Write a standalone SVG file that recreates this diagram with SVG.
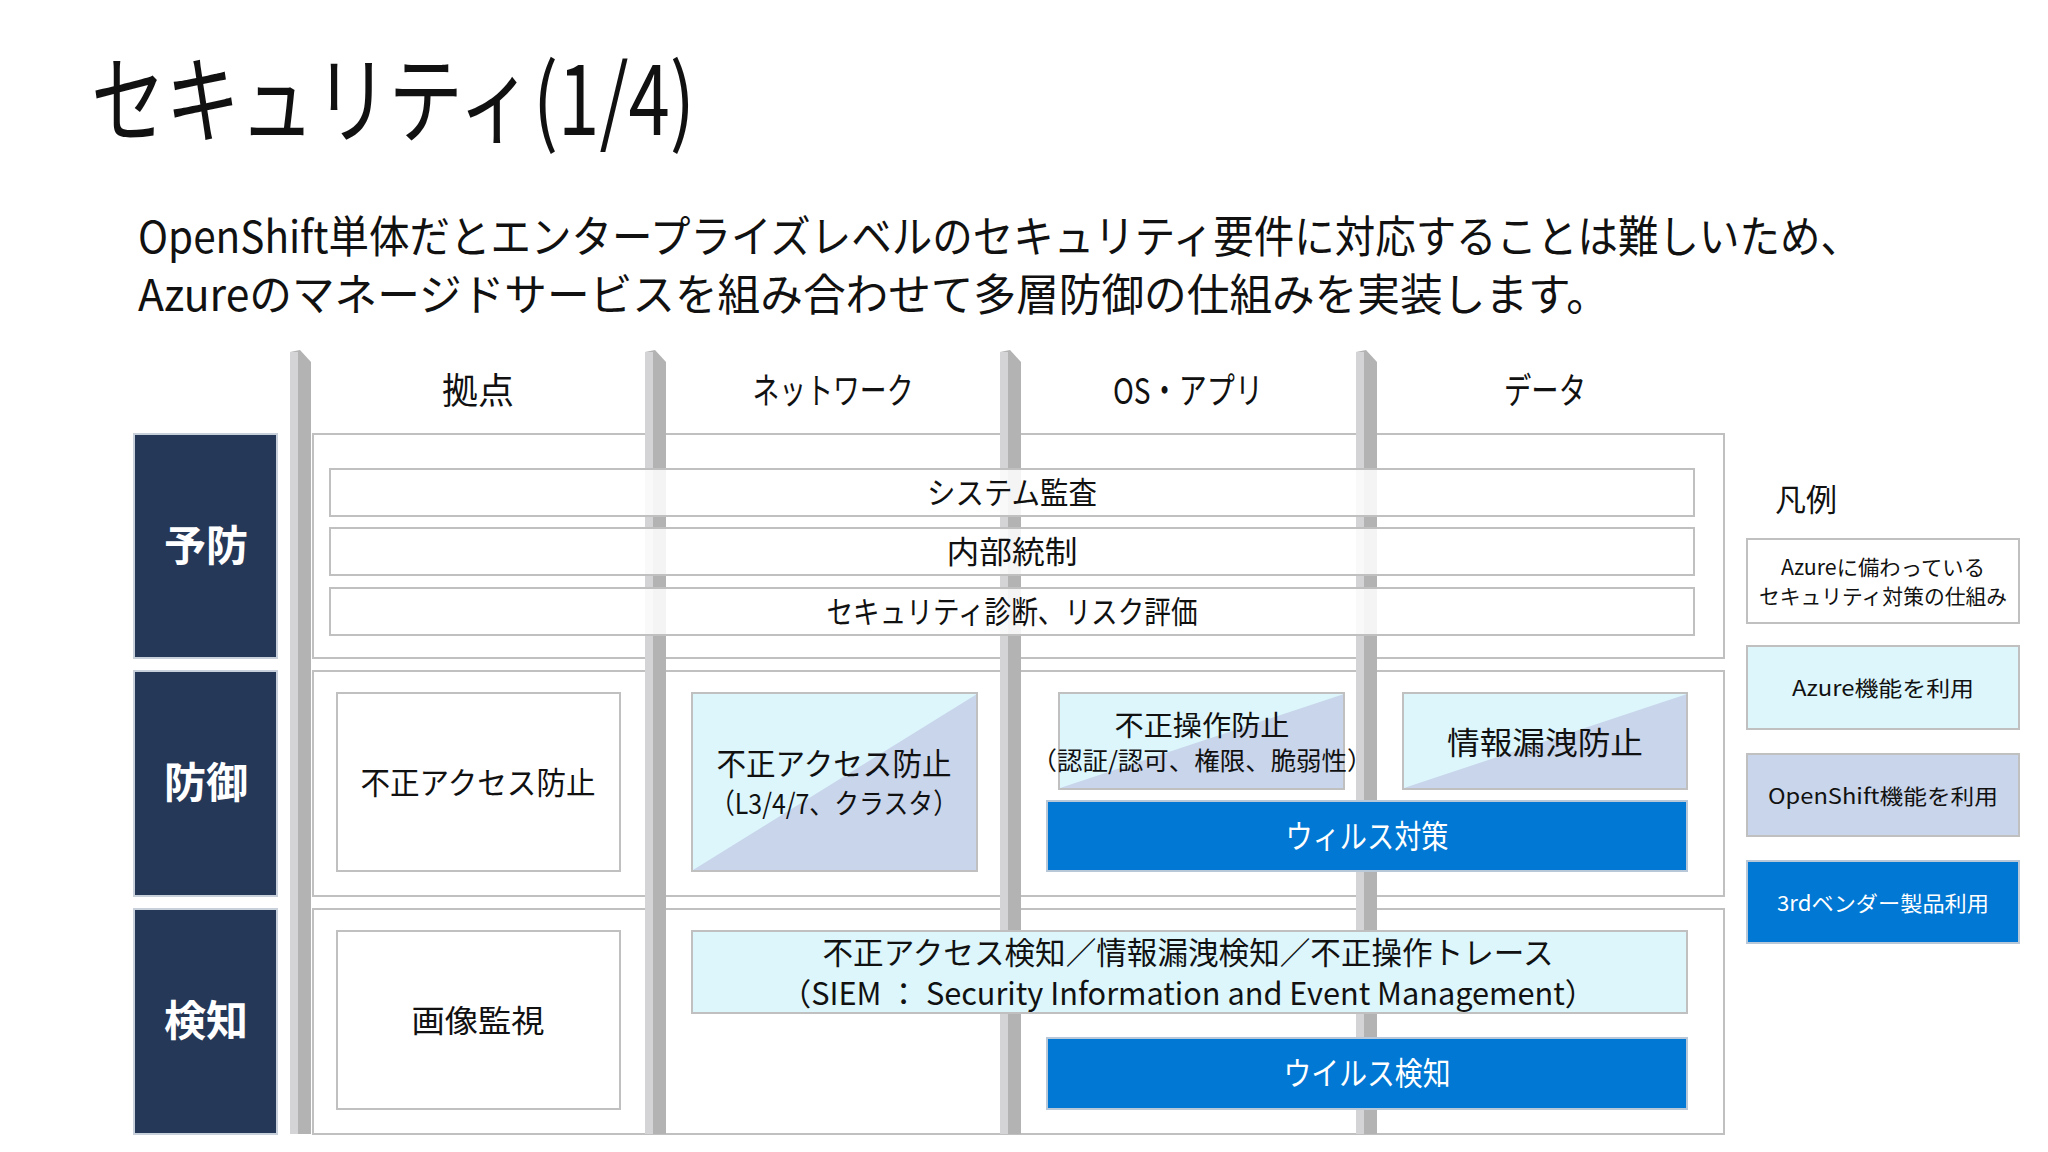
<svg xmlns="http://www.w3.org/2000/svg" width="2048" height="1152" viewBox="0 0 2048 1152">
<style>
text{font-family:"Noto Sans CJK JP","Noto Sans",sans-serif;fill:#111;text-anchor:middle}
.panel{fill:#fff;stroke:#c0c0c0;stroke-width:2}
.bar{fill:#fff;fill-opacity:0.85;stroke:#c0c0c0;stroke-width:2}
.wbox{fill:#fff;stroke:#c0c0c0;stroke-width:2}
.cyan{fill:#dcf6fc;stroke:#c0c0c0;stroke-width:2}
.lav{fill:#c9d5ea}
.blue{fill:#0078d4;stroke:#b8c8d8;stroke-width:2}
.lab{fill:#253858;stroke:#c8d0dc;stroke-width:2}
.labt{fill:#fff;font-weight:bold;font-size:42px}
.pil{fill:#b3b3b4}
.pilL{fill:#d4d4d6}
.hdr{font-size:36px}
.t31{font-size:31px}
.t30{font-size:28px}
.wt{fill:#fff;font-size:32px}
.lg{font-size:21px}
</style>
<text x="91" y="135" style="font-size:96px;text-anchor:start" textLength="604" lengthAdjust="spacingAndGlyphs">セキュリティ(1/4)</text>
<text x="138" y="253" style="font-size:44px;text-anchor:start" textLength="1723" lengthAdjust="spacingAndGlyphs">OpenShift単体だとエンタープライズレベルのセキュリティ要件に対応することは難しいため、</text>
<text x="138" y="311" style="font-size:44px;text-anchor:start" textLength="1471" lengthAdjust="spacingAndGlyphs">Azureのマネージドサービスを組み合わせて多層防御の仕組みを実装します。</text>

<g id="headers">
<text class="hdr" x="478" y="404">拠点</text>
<text class="hdr" x="833" y="404" textLength="161" lengthAdjust="spacingAndGlyphs">ネットワーク</text>
<text class="hdr" x="1188" y="404" textLength="150" lengthAdjust="spacingAndGlyphs">OS・アプリ</text>
<text class="hdr" x="1545" y="404" textLength="82" lengthAdjust="spacingAndGlyphs">データ</text>
</g>
<g id="panels">
<rect class="panel" x="313" y="434" width="1411" height="224"/>
<rect class="panel" x="313" y="671" width="1411" height="225"/>
<rect class="panel" x="313" y="909" width="1411" height="225"/>
</g>
<g id="pillars">
<polygon class="pil" points="290,352 300,350 311,362 311,1134 290,1134"/>
<rect class="pilL" x="290" y="352" width="8" height="782"/>
<polygon class="pil" points="645,352 655,350 666,362 666,1134 645,1134"/>
<rect class="pilL" x="645" y="352" width="8" height="782"/>
<polygon class="pil" points="1000,352 1010,350 1021,362 1021,1134 1000,1134"/>
<rect class="pilL" x="1000" y="352" width="8" height="782"/>
<polygon class="pil" points="1356,352 1366,350 1377,362 1377,1134 1356,1134"/>
<rect class="pilL" x="1356" y="352" width="8" height="782"/>
</g>
<g id="labels">
<rect class="lab" x="134" y="434" width="143" height="224"/><text class="labt" x="206" y="561">予防</text>
<rect class="lab" x="134" y="671" width="143" height="225"/><text class="labt" x="206" y="798">防御</text>
<rect class="lab" x="134" y="909" width="143" height="225"/><text class="labt" x="206" y="1036">検知</text>
</g>
<g id="yobou">
<rect class="bar" x="330" y="469" width="1364" height="47"/><text class="t31" x="1012" y="504" textLength="170" lengthAdjust="spacingAndGlyphs">システム監査</text>
<rect class="bar" x="330" y="528" width="1364" height="47"/><text class="t31" x="1012" y="563" textLength="131" lengthAdjust="spacingAndGlyphs">内部統制</text>
<rect class="bar" x="330" y="588" width="1364" height="47"/><text class="t31" x="1012" y="623" textLength="371" lengthAdjust="spacingAndGlyphs">セキュリティ診断、リスク評価</text>
</g>
<g id="bougyo">
<rect class="wbox" x="337" y="693" width="283" height="178"/><text class="t31" x="478" y="794" textLength="235" lengthAdjust="spacingAndGlyphs">不正アクセス防止</text>
<g id="net">
<rect class="cyan" x="692" y="693" width="285" height="178"/>
<polygon class="lav" points="977,694 977,870 693,870"/>
<rect x="692" y="693" width="285" height="178" fill="none" stroke="#c0c0c0" stroke-width="2"/>
<text class="t31" x="834" y="775" textLength="235" lengthAdjust="spacingAndGlyphs">不正アクセス防止</text>
<text class="t30" x="834" y="814" textLength="248" lengthAdjust="spacingAndGlyphs">（L3/4/7、クラスタ）</text>
</g>
<g id="os">
<rect class="cyan" x="1059" y="693" width="285" height="96"/>
<polygon class="lav" points="1344,694 1344,788 1060,788"/>
<rect x="1059" y="693" width="285" height="96" fill="none" stroke="#c0c0c0" stroke-width="2"/>
<text class="t30" x="1202" y="736" textLength="175" lengthAdjust="spacingAndGlyphs">不正操作防止</text>
<text style="font-size:25px" x="1202" y="770" textLength="341" lengthAdjust="spacingAndGlyphs">（認証/認可、権限、脆弱性）</text>
</g>
<g id="data">
<rect class="cyan" x="1403" y="693" width="284" height="96"/>
<polygon class="lav" points="1687,694 1687,788 1404,788"/>
<rect x="1403" y="693" width="284" height="96" fill="none" stroke="#c0c0c0" stroke-width="2"/>
<text class="t31" x="1545" y="754" textLength="196" lengthAdjust="spacingAndGlyphs">情報漏洩防止</text>
</g>
<rect class="blue" x="1047" y="801" width="640" height="70"/><text class="wt" x="1367" y="848" textLength="163" lengthAdjust="spacingAndGlyphs">ウィルス対策</text>
</g>
<g id="kenchi">
<rect class="wbox" x="337" y="931" width="283" height="178"/><text class="t31" x="478" y="1032" textLength="133" lengthAdjust="spacingAndGlyphs">画像監視</text>
<rect class="cyan" x="692" y="931" width="995" height="82"/>
<text class="t31" x="1188" y="964" textLength="731" lengthAdjust="spacingAndGlyphs">不正アクセス検知／情報漏洩検知／不正操作トレース</text>
<text class="t31" x="1188" y="1005" textLength="815" lengthAdjust="spacingAndGlyphs">（SIEM ： Security Information and Event Management）</text>
<rect class="blue" x="1047" y="1038" width="640" height="71"/><text class="wt" x="1367" y="1085" textLength="167" lengthAdjust="spacingAndGlyphs">ウイルス検知</text>
</g>
<g id="legend">
<text x="1806" y="511" style="font-size:31px">凡例</text>
<rect class="wbox" x="1747" y="539" width="272" height="84"/>
<text class="lg" x="1883" y="575" textLength="204" lengthAdjust="spacingAndGlyphs">Azureに備わっている</text>
<text class="lg" x="1883" y="604" textLength="248" lengthAdjust="spacingAndGlyphs">セキュリティ対策の仕組み</text>
<rect class="cyan" x="1747" y="646" width="272" height="83"/><text class="lg" x="1883" y="696" textLength="182" lengthAdjust="spacingAndGlyphs">Azure機能を利用</text>
<rect class="lav" x="1747" y="754" width="272" height="82" stroke="#c0c0c0" stroke-width="2"/><text class="lg" x="1883" y="804" textLength="230" lengthAdjust="spacingAndGlyphs">OpenShift機能を利用</text>
<rect class="blue" x="1747" y="861" width="272" height="82"/><text class="lg" x="1883" y="911" style="fill:#fff" textLength="212" lengthAdjust="spacingAndGlyphs">3rdベンダー製品利用</text>
</g>
</svg>
